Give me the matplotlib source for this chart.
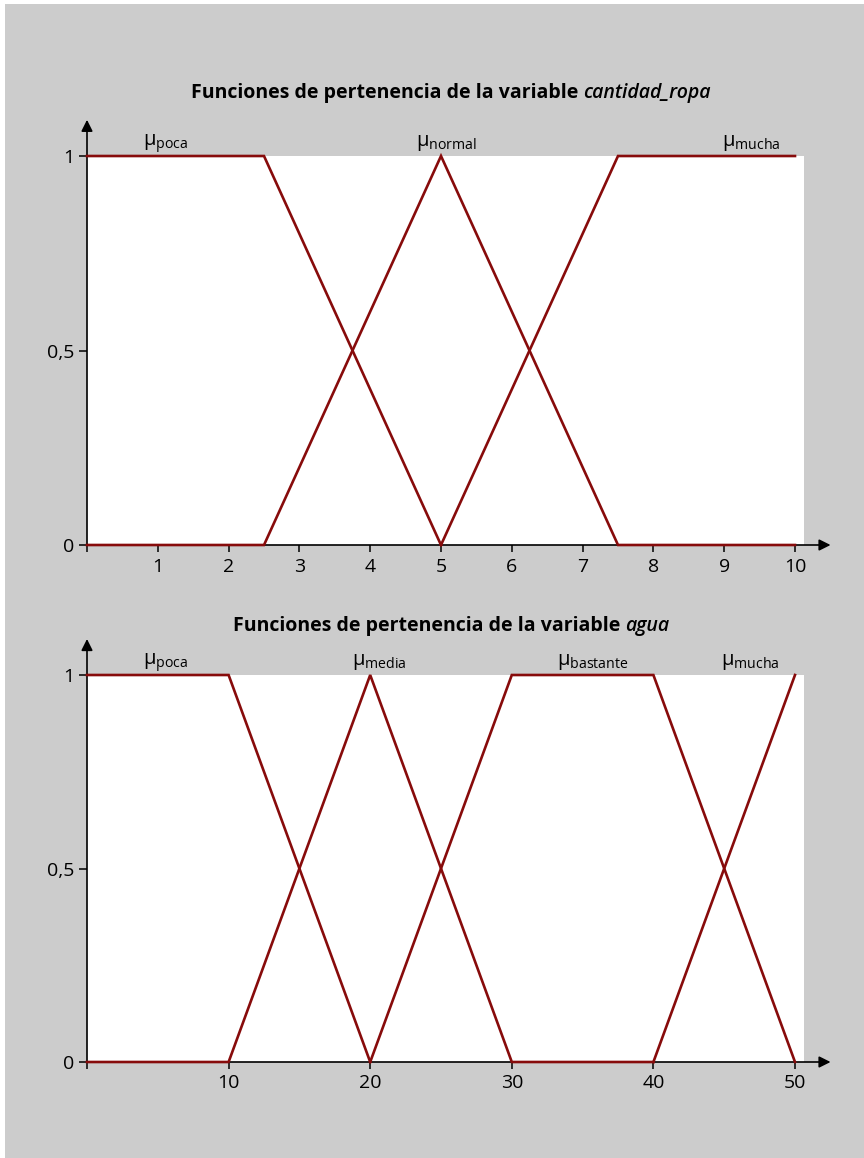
import numpy as np
import matplotlib.pyplot as plt
from matplotlib.patches import Rectangle

plt.rcParams['font.family'] = ['Open Sans', 'DejaVu Sans']

# cantidad_ropa: funciones de pertenencia (x, mu)
ropa_poca_x = [0, 2.5, 5]
ropa_poca_y = [1, 1, 0]
ropa_normal_x = [0, 2.5, 5, 7.5, 10]
ropa_normal_y = [0, 0, 1, 0, 0]
ropa_mucha_x = [5, 7.5, 10]
ropa_mucha_y = [0, 1, 1]

# agua: funciones de pertenencia (x, mu)
agua_poca_x = [0, 10, 20]
agua_poca_y = [1, 1, 0]
agua_media_x = [0, 10, 20, 30, 40]
agua_media_y = [0, 0, 1, 0, 0]
agua_bastante_x = [20, 30, 40, 50]
agua_bastante_y = [0, 1, 1, 0]
agua_mucha_x = [40, 50]
agua_mucha_y = [0, 1]

ropa_nombres = ['poca', 'normal', 'mucha']
agua_nombres = ['poca', 'media', 'bastante', 'mucha']
ropa_etiqueta_x = [0.79, 4.65, 8.97]
agua_etiqueta_x = [3.95, 18.7, 33.2, 44.8]

ropa_xticks = [0, 1, 2, 3, 4, 5, 6, 7, 8, 9, 10]
agua_xticks = [0, 10, 20, 30, 40, 50]
yticks = [0, 0.5, 1]
ytick_labels = ['0', '0,5', '1']

ROJO = '#870b0b'
GRIS = '#cccccc'

W, H = 864, 1158
fig = plt.figure(figsize=(W / 100, H / 100), dpi=100, facecolor='white')
fig.patches.append(Rectangle((5 / W, 0), 1 - 5 / W, 1 - 4 / H,
                             transform=fig.transFigure, facecolor=GRIS,
                             edgecolor='none', zorder=-10))


def px_axes(left, top, right, bottom):
    return [left / W, 1 - bottom / H, (right - left) / W, (bottom - top) / H]


def dibujar(ax, curvas, xmax, xticks, nombres, etiqueta_x):
    ax.set_facecolor('white')
    for xs, ys in curvas:
        ax.plot(xs, ys, color=ROJO, lw=1.9, solid_joinstyle='miter',
                clip_on=False, zorder=3)
    ax.set_xlim(0, xmax)
    ax.set_ylim(0, 1)
    for s in ax.spines.values():
        s.set_visible(False)
    ax.set_xticks(xticks)
    ax.set_xticklabels([''] + [str(t) for t in xticks[1:]])
    ax.set_yticks(yticks)
    ax.set_yticklabels(ytick_labels)
    ax.tick_params(axis='x', direction='out', length=5, width=1.1,
                   labelsize=14, pad=4)
    ax.tick_params(axis='y', direction='out', length=6, width=1.1,
                   labelsize=14, pad=3)
    # ejes con flecha
    ax.annotate('', xy=(1.037, 0), xytext=(0, 0), xycoords='axes fraction',
                arrowprops=dict(arrowstyle='-|>', color='black', lw=1.2,
                                mutation_scale=17, shrinkA=0, shrinkB=0),
                zorder=2)
    ax.annotate('', xy=(0, 1.093), xytext=(0, 0), xycoords='axes fraction',
                arrowprops=dict(arrowstyle='-|>', color='black', lw=1.2,
                                mutation_scale=17, shrinkA=0, shrinkB=0),
                zorder=2)
    for n, xl in zip(nombres, etiqueta_x):
        ax.annotate(r'$\mathregular{μ_{%s}}$' % n, xy=(xl, 1),
                    xytext=(0, 7.5), textcoords='offset points',
                    ha='left', va='baseline', fontsize=14.5, clip_on=False)


def titulo(y_px, normal, cursiva):
    t1 = fig.text(0, 1 - y_px / H, normal, fontsize=14, fontweight='bold',
                  va='center', ha='left')
    t2 = fig.text(0, 1 - y_px / H, cursiva, fontsize=14, fontweight='semibold',
                  style='italic', va='center', ha='left')
    fig.canvas.draw()
    r = fig.canvas.get_renderer()
    w1 = t1.get_window_extent(r).width
    w2 = t2.get_window_extent(r).width
    x0 = 451 - (w1 + w2) / 2
    t1.set_x(x0 / W)
    t2.set_x((x0 + w1) / W)


ax1 = fig.add_axes(px_axes(87, 156, 804, 545))
dibujar(ax1, [(ropa_poca_x, ropa_poca_y), (ropa_normal_x, ropa_normal_y),
              (ropa_mucha_x, ropa_mucha_y)],
        717 / 70.8, ropa_xticks, ropa_nombres, ropa_etiqueta_x)

ax2 = fig.add_axes(px_axes(87, 675, 804, 1062))
dibujar(ax2, [(agua_poca_x, agua_poca_y), (agua_media_x, agua_media_y),
              (agua_bastante_x, agua_bastante_y), (agua_mucha_x, agua_mucha_y)],
        717 / 14.16, agua_xticks, agua_nombres, agua_etiqueta_x)

titulo(93, 'Funciones de pertenencia de la variable ', 'cantidad_ropa')
titulo(626, 'Funciones de pertenencia de la variable ', 'agua')

fig.savefig('out.png', dpi=100, facecolor=fig.get_facecolor())
